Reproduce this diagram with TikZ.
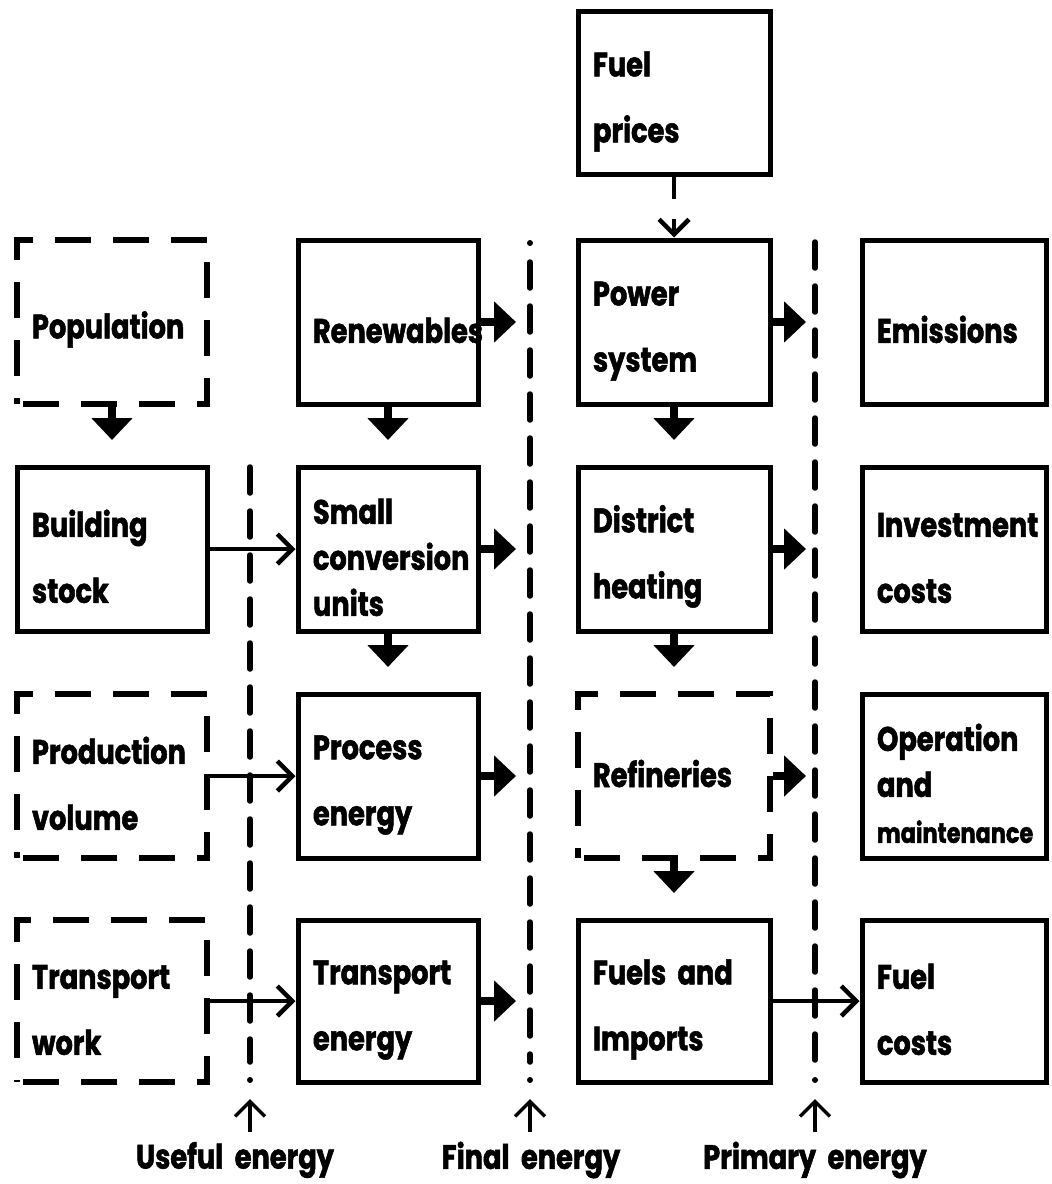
\documentclass[tikz,border=0pt]{standalone}
\usepackage{fontspec}
\setmainfont{Poppins}[FakeStretch=0.8, BoldFeatures={FakeBold=1.5}]
\usetikzlibrary{arrows.meta}
\newcommand\boxfont{\bfseries\fontsize{34}{66}\selectfont}
\newcommand\tightfont{\bfseries\fontsize{34}{46}\selectfont}
\begin{document}
\begin{tikzpicture}[x=1pt,y=-1pt,
  box/.style={draw=black, line width=5pt, rectangle, minimum height=164pt,
    inner xsep=15pt, inner ysep=0pt, align=left, font=\boxfont,
    execute at begin node={\rule{0pt}{42pt}}},
  dbox/.style={box, line width=5.5pt, dash pattern=on 36pt off 22pt, dash phase=-6pt},
  cA/.style={text width=160pt},
  cB/.style={text width=150pt},
  cC/.style={text width=162pt},
  cD/.style={text width=154pt},
  barrow/.style={line width=8pt, -{Triangle[length=22pt,width=40pt]}},
  tarrow/.style={line width=4.5pt, -{Straight Barb[length=15pt,width=30pt]}},
  divider/.style={line width=5.5pt, line cap=round, dash pattern=on 26pt off 18pt},
  lbl/.style={font=\boxfont, inner sep=0pt}
]
\path[use as bounding box] (0,0) rectangle (1052,1184);

% boxes
\node[box,cC, minimum height=163pt] (fp) at (674,93) {Fuel\\prices};

\node[dbox,cA] (pop) at (112,322) {Population};
\node[box,cB] (ren) at (388,322) {Renewables};
\node[box,cC] (pow) at (674,322) {Power\\system};
\node[box,cD] (emi) at (954,322) {Emissions};

\node[box,cA] (bld) at (112,549) {Building\\stock};
\node[box,cB,font=\tightfont] (small) at (388,549) {Small\\conversion\\units};
\node[box,cC] (dist) at (674,549) {District\\heating};
\node[box,cD] (inv) at (954,549) {Investment\\costs};

\node[dbox,cA] (prod) at (112,776) {Production\\volume};
\node[box,cB] (proc) at (388,776) {Process\\energy};
\node[dbox,cC, execute at begin node={\rule[-20pt]{0pt}{1pt}}] (ref) at (674,776) {Refineries};
\node[box,cD,font=\tightfont] (om) at (954,776) {Operation\\and\\{\fontsize{28}{46}\selectfont maintenance}};

\node[dbox,cA, minimum height=162pt] (tw) at (112,1001) {Transport\\work};
\node[box,cB, minimum height=162pt] (te) at (388,1001) {Transport\\energy};
\node[box,cC, minimum height=162pt] (fi) at (674,1001) {Fuels and\\Imports};
\node[box,cD, minimum height=162pt] (fc) at (954,1001) {Fuel\\costs};

% dividers
\coordinate (u0) at (250,467);
\coordinate (u1) at (250,1080);
\coordinate (f0) at (530,243);
\coordinate (f1) at (530,1080);
\coordinate (p0) at (815,242);
\coordinate (p1) at (815,1080);
\draw[divider] (u0) -- (250,1062);
\fill (u1) circle (3pt);
\fill (f0) circle (3pt);
\draw[divider] (530,262) -- (530,1062);
\fill (f1) circle (3pt);
\draw[divider] (p0) -- (815,1062);
\fill (p1) circle (3pt);

% thick block arrows down
\coordinate (d1) at (112,440);
\coordinate (d2) at (388,440);
\coordinate (d3) at (674,440);
\coordinate (d4) at (388,667);
\coordinate (d5) at (674,667);
\coordinate (d6) at (674,893);
\draw[barrow] (pop.south) -- (d1);
\draw[barrow] (ren.south) -- (d2);
\draw[barrow] (pow.south) -- (d3);
\draw[barrow] (small.south) -- (d4);
\draw[barrow] (dist.south) -- (d5);
\draw[barrow] (ref.south) -- (d6);

% thick block arrows right
\coordinate (r1) at (516,322);
\coordinate (r2) at (806,322);
\coordinate (r3) at (516,549);
\coordinate (r4) at (806,549);
\coordinate (r5) at (516,776);
\coordinate (r6) at (806,776);
\coordinate (r7) at (516,1001);
\draw[barrow] (ren.east) -- (r1);
\draw[barrow] (pow.east) -- (r2);
\draw[barrow] (small.east) -- (r3);
\draw[barrow] (dist.east) -- (r4);
\draw[barrow] (proc.east) -- (r5);
\draw[barrow] (ref.east) -- (r6);
\draw[barrow] (te.east) -- (r7);

% thin arrows
\draw[tarrow] (bld.east) -- (small.west);
\draw[tarrow] (prod.east) -- (proc.west);
\draw[tarrow] (tw.east) -- (te.west);
\draw[tarrow] (fi.east) -- (fc.west);
\draw[tarrow, dash pattern=on 22pt off 20pt] (fp.south) -- (pow.north);

% bottom labels
\node[lbl] (lu) at (235,1160) {Useful\ \ energy};
\node[lbl] (lf) at (531,1160) {Final\ \ energy};
\node[lbl] (lp) at (815,1160) {Primary\ \ energy};
\coordinate (au) at (250,1099);
\coordinate (af) at (530,1099);
\coordinate (ap) at (815,1099);
\draw[tarrow, line width=3.5pt, shorten <=10pt] (lu.north -| au) -- (au);
\draw[tarrow, line width=3.5pt, shorten <=10pt] (lf.north -| af) -- (af);
\draw[tarrow, line width=3.5pt, shorten <=10pt] (lp.north -| ap) -- (ap);
\end{tikzpicture}
\end{document}
